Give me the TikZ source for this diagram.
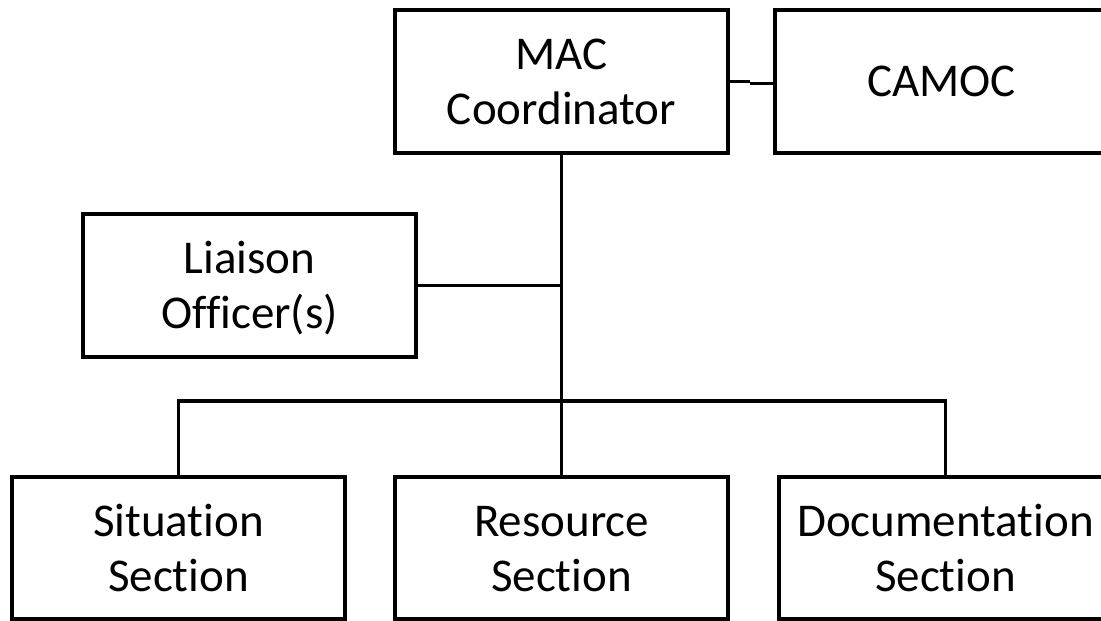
\documentclass[tikz,border=0pt]{standalone}
\usepackage{fontspec}
\setmainfont{Carlito}[Ligatures=NoCommon]
\newcommand\twolines[2]{\rule{0pt}{43pt}#1\\#2\rule[-12pt]{0pt}{12pt}}
\begin{document}
\begin{tikzpicture}[x=1pt,y=-1pt,
  box/.style={draw=black, line width=3.5pt, minimum width=333pt, minimum height=143pt,
    inner sep=0pt, outer sep=0pt, align=center, font=\fontsize{47}{55}\selectfont, anchor=north west},
  low/.style={minimum height=142pt},
  link/.style={draw=black, line width=3.5pt}]
\useasboundingbox (0,0) rectangle (1101,621);
\clip (0,0) rectangle (1101,621);
\node[box] (mac) at (395,10) {\twolines{MAC}{Coordinator}};
\node[box] (camoc) at (775,10) {CAMOC};
\node[box] (liaison) at (83,214) {\twolines{Liaison}{Officer(s)}};
\node[box, low] (sit) at (12,477) {\twolines{Situation}{Section}};
\node[box, low] (res) at (395,477) {\twolines{Resource}{Section}};
\node[box, low] (doc) at (779,477) {\twolines{Documentation}{Section}};
\coordinate (bus) at (561.5,401);
% MAC -- CAMOC (small kink)
\draw[link] (mac.east) -- ++(22,0) coordinate (k1);
\draw[link] ([yshift=-2pt]k1) -- ([yshift=-2pt]camoc.west);
% trunk
\draw[link] (mac.south) -- (bus);
\draw[link] (liaison.east) -- (liaison.east -| mac.south);
% bus
\draw[link] (sit.north) -- (sit.north |- bus) -- (doc.north |- bus) -- (doc.north);
\draw[link] (res.north) -- (res.north |- bus);
\end{tikzpicture}
\end{document}
